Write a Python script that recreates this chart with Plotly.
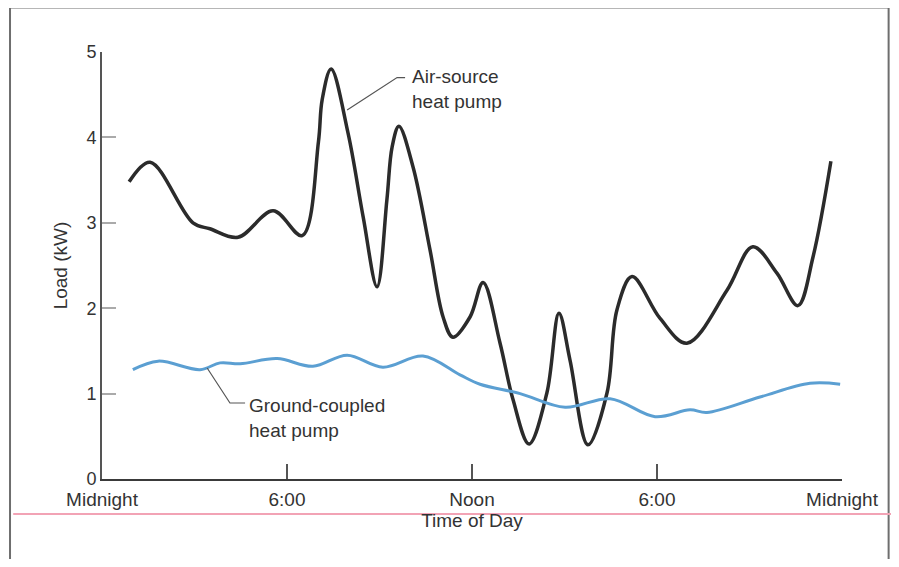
import plotly.graph_objects as go

# ---- data (hours after midnight, load in kW) ----
air_hours = [0.88, 1.56, 2.95, 3.50, 4.41, 5.55, 6.49, 7.02, 7.14, 7.43, 7.98, 8.47, 8.92,
             9.24, 9.41, 9.63, 10.09, 10.64, 11.06, 11.38, 11.94, 12.36, 12.91, 13.33, 13.85,
             14.43, 14.82, 15.18, 15.76, 16.38, 16.70, 17.19, 18.10, 18.97, 20.27, 21.11,
             21.89, 22.57, 23.06, 23.64]
air_load = [3.48, 3.71, 3.00, 2.93, 2.83, 3.14, 2.85, 3.95, 4.44, 4.80, 4.05, 3.07, 2.25,
            3.27, 3.89, 4.13, 3.65, 2.68, 1.90, 1.66, 1.90, 2.30, 1.59, 0.93, 0.41,
            1.01, 1.94, 1.39, 0.40, 1.01, 1.98, 2.37, 1.88, 1.59, 2.21, 2.72,
            2.41, 2.03, 2.60, 3.72]

ground_hours = [1.00, 1.82, 3.18, 3.83, 4.48, 5.68, 6.84, 7.95, 9.11, 10.41, 11.61, 12.26,
                13.56, 15.02, 16.48, 17.94, 19.07, 19.62, 21.34, 22.96, 23.94]
ground_load = [1.28, 1.38, 1.28, 1.36, 1.35, 1.41, 1.32, 1.45, 1.31, 1.44, 1.22, 1.11,
               1.00, 0.84, 0.94, 0.73, 0.81, 0.78, 0.96, 1.12, 1.11]

x_tickvals = [0, 6, 12, 18, 24]
x_ticktext = ["Midnight", "6:00", "Noon", "6:00", "Midnight"]
y_tickvals = [0, 1, 2, 3, 4, 5]

FONT = "Liberation Sans"
TXT = "#333333"

fig = go.Figure()
fig.add_trace(go.Scatter(x=air_hours, y=air_load, mode="lines",
                         line=dict(color="#2b2b2b", width=3.5, shape="spline", smoothing=1.0),
                         name="Air-source heat pump", hoverinfo="skip"))
fig.add_trace(go.Scatter(x=ground_hours, y=ground_load, mode="lines",
                         line=dict(color="#5b9fd2", width=3, shape="spline", smoothing=1.0),
                         name="Ground-coupled heat pump", hoverinfo="skip"))

# leader lines (data coordinates)
fig.add_trace(go.Scatter(x=[7.95, 9.57, 9.83], y=[4.32, 4.70, 4.70], mode="lines",
                         line=dict(color="#555555", width=1.2), hoverinfo="skip", showlegend=False))
fig.add_trace(go.Scatter(x=[3.41, 4.15, 4.64], y=[1.30, 0.89, 0.89], mode="lines",
                         line=dict(color="#555555", width=1.2), hoverinfo="skip", showlegend=False))

fig.add_annotation(x=9.99, y=4.57, xref="x", yref="y", text="Air-source<br>heat pump",
                   showarrow=False, xanchor="left", yanchor="middle", align="left",
                   font=dict(family=FONT, size=19, color=TXT))
fig.add_annotation(x=4.70, y=0.71, xref="x", yref="y", text="Ground-coupled<br>heat pump",
                   showarrow=False, xanchor="left", yanchor="middle", align="left",
                   font=dict(family=FONT, size=19, color=TXT))

# outer frame of the figure
frame = dict(color="#6e6e6e", width=2)
RIGHT = 1.063
fig.add_shape(type="line", xref="paper", yref="paper", x0=-0.1243, x1=-0.1243, y0=-0.3, y1=1.104, line=frame)
fig.add_shape(type="line", xref="paper", yref="paper", x0=-0.1243, x1=RIGHT, y0=1.104, y1=1.104, line=frame)
fig.add_shape(type="line", xref="paper", yref="paper", x0=RIGHT, x1=RIGHT, y0=-0.3, y1=1.104, line=frame)
# faint pink rule under tick labels
fig.add_shape(type="line", xref="paper", yref="paper", x0=-0.12, x1=1.08, y0=-0.082, y1=-0.082,
              line=dict(color="#f2a3b5", width=2))

fig.update_layout(
    width=889, height=551,
    margin=dict(l=94, r=55, t=44, b=80),
    paper_bgcolor="white", plot_bgcolor="white",
    showlegend=False,
    font=dict(family=FONT, size=19, color=TXT),
    xaxis=dict(range=[0, 24], tickvals=x_tickvals, ticktext=x_ticktext,
               showgrid=False, zeroline=False, showline=True, linecolor="#3a3a3a", linewidth=2,
               ticks="inside", ticklen=15, tickwidth=1.5, tickcolor="#555555",
               ticklabelstandoff=2,
               tickfont=dict(family=FONT, size=19, color=TXT),
               title=dict(text="Time of Day", font=dict(family=FONT, size=19, color=TXT), standoff=4)),
    yaxis=dict(range=[0, 5], tickvals=y_tickvals,
               showgrid=False, zeroline=False, showline=True, linecolor="#555555", linewidth=2,
               ticks="inside", ticklen=14, tickwidth=2, tickcolor="#aaaaaa",
               tickfont=dict(family=FONT, size=18, color=TXT),
               title=dict(text="Load (kW)", font=dict(family=FONT, size=19, color=TXT), standoff=14)),
)

fig.write_html("out.html")
